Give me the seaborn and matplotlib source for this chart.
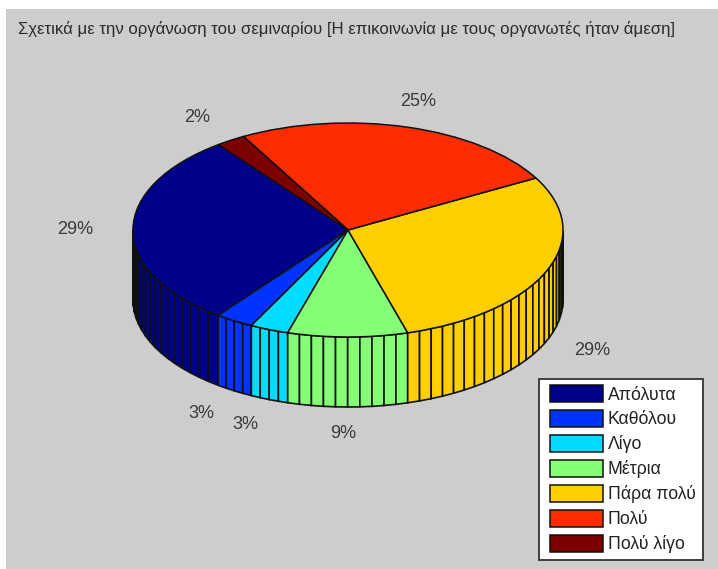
import matplotlib
matplotlib.use("Agg")
import matplotlib.pyplot as plt
import numpy as np
import seaborn as sns
from matplotlib.patches import Rectangle

# Data
categories = ["Απόλυτα", "Καθόλου", "Λίγο", "Μέτρια", "Πάρα πολύ", "Πολύ", "Πολύ λίγο"]
percent = [29.4, 2.9, 2.9, 9.0, 28.6, 25.0, 2.2]
colours = ["#00008a", "#0033ff", "#00dcff", "#85ff75", "#ffcf00", "#ff2c00", "#7d0000"]
title = "Σχετικά με την οργάνωση του σεμιναρίου [Η επικοινωνία με τους οργανωτές ήταν άμεση]"

sns.set_theme(style="white")
plt.rcParams["font.family"] = ["Liberation Sans", "DejaVu Sans"]
palette = sns.color_palette(colours)

W, H = 718, 569
CX, CY = 348, 230   # pie centre in pixels
RX, RY = 215, 107   # ellipse radii in pixels
DEPTH = 70 / RY     # disc thickness in y units
START = 127

fig = plt.figure(figsize=(W / 100, H / 100), dpi=100, facecolor="white")
fig.add_artist(Rectangle((6 / W, 0), 1, 1 - 9 / H, transform=fig.transFigure,
                         facecolor="#cdcdcd", edgecolor="none", zorder=-5))
ax = fig.add_axes([0, 0, 1, 1])
ax.patch.set_alpha(0)

wedges, _ = ax.pie(percent, colors=palette, startangle=START, counterclock=True,
                   radius=1, wedgeprops={"edgecolor": "#101010", "linewidth": 1.1})
for w in wedges:
    w.set_zorder(3)

# the pie becomes an ellipse once the axes is stretched
ax.set_aspect("auto")
ax.set_xlim(-CX / RX, (W - CX) / RX)
ax.set_ylim(-(H - CY) / RY, CY / RY)
ax.axis("off")

# side wall of the disc, drawn facet by facet under the top
angle = START
mids = []
for value, col in zip(percent, palette):
    span = value * 3.6
    n = int(np.ceil(span / 3.4))
    edges = np.radians(np.linspace(angle, angle + span, n + 1))
    for a0, a1 in zip(edges[:-1], edges[1:]):
        if np.sin((a0 + a1) / 2) < 0:
            xs = [np.cos(a0), np.cos(a1), np.cos(a1), np.cos(a0)]
            ys = [np.sin(a0), np.sin(a1), np.sin(a1) - DEPTH, np.sin(a0) - DEPTH]
            ax.fill(xs, ys, facecolor=col, edgecolor="#101010", linewidth=1.2,
                    zorder=2, clip_on=False)
    mids.append(np.radians(angle + span / 2))
    angle += span

# percent labels, front ones sit level with the bottom of the disc
for value, mid in zip(percent, mids):
    s = np.sin(mid)
    y = 1.25 * s - (DEPTH if s < -0.05 else 0)
    ax.text(1.25 * np.cos(mid) - 4 / RX, y, f"{value:.0f}%", ha="center", va="center",
            fontsize=13, color="#3a3a3a", zorder=5)

fig.text(18 / W, 1 - 29 / H, title, fontsize=12.06, color="#2b2b2b", ha="left", va="center")

# legend box is drawn apart so the side padding can differ from the top padding
ax.add_patch(Rectangle((539 / W, 1 - 560 / H), 164 / W, 181 / H, transform=fig.transFigure,
                       facecolor="white", edgecolor="#333333", linewidth=1.3,
                       zorder=5.5, clip_on=False))
leg = ax.legend(wedges, categories, loc="upper left",
                bbox_to_anchor=(550 / W, 1 - 385 / H), bbox_transform=fig.transFigure,
                fontsize=12.7, frameon=False, borderaxespad=0, borderpad=0,
                handlelength=3.0, handleheight=1.12, labelspacing=0.36, handletextpad=0.28,
                labelcolor="#222222")
leg.set_zorder(6)

fig.savefig("out.png", dpi=100)
